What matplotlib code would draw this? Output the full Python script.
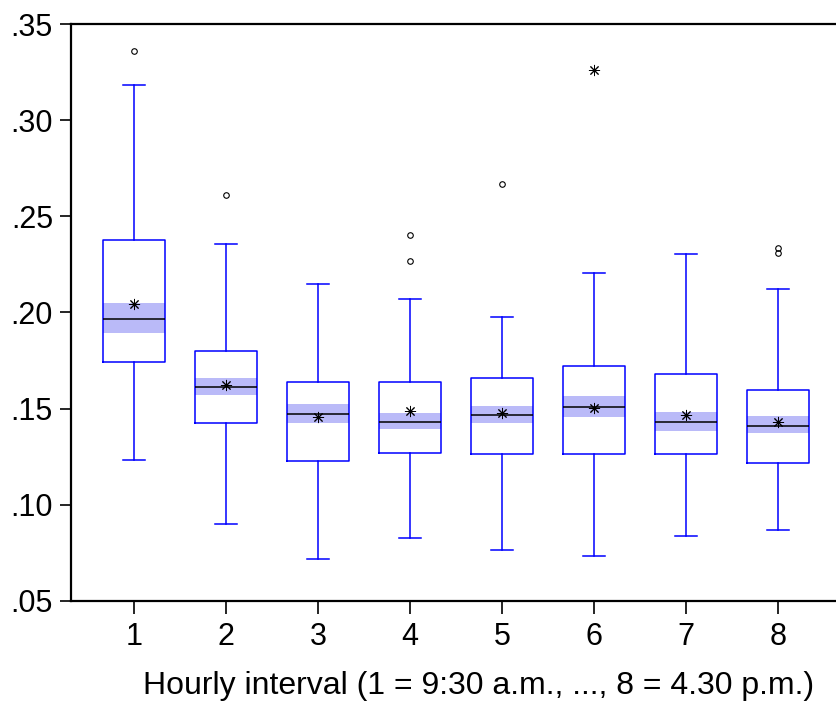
import matplotlib.pyplot as plt

# (hourly intervals 1..8)
intervals = [1, 2, 3, 4, 5, 6, 7, 8]
q1 = [0.1745, 0.1427, 0.1226, 0.1269, 0.1264, 0.1264, 0.1262, 0.1215]
median = [0.1965, 0.1615, 0.1474, 0.1431, 0.1465, 0.1509, 0.1429, 0.1411]
q3 = [0.2379, 0.1802, 0.1641, 0.1641, 0.1661, 0.1722, 0.1679, 0.1595]
whisker_lo = [0.1233, 0.0898, 0.0719, 0.0825, 0.0766, 0.0734, 0.0840, 0.0871]
whisker_hi = [0.3184, 0.2356, 0.2149, 0.2069, 0.1976, 0.2205, 0.2306, 0.2121]
mean = [0.2045, 0.1621, 0.1455, 0.1488, 0.1476, 0.1505, 0.1467, 0.1431]
ci_lo = [0.1892, 0.1569, 0.1424, 0.1392, 0.1424, 0.1455, 0.1382, 0.1371]
ci_hi = [0.2047, 0.1661, 0.1526, 0.1479, 0.1516, 0.1568, 0.1484, 0.1464]
near_outliers = [[0.3361], [0.2613], [], [0.2403, 0.2269], [0.2667], [], [], [0.2333, 0.2309]]
far_outliers = [[], [], [], [], [], [0.3260], [], []]

y_ticks = [0.05, 0.10, 0.15, 0.20, 0.25, 0.30, 0.35]
y_tick_labels = [".05", ".10", ".15", ".20", ".25", ".30", ".35"]
x_label = "Hourly interval (1 = 9:30 a.m., ..., 8 = 4.30 p.m.)"

plt.rcParams["font.family"] = ["Liberation Sans", "DejaVu Sans"]

W, H = 836, 710
fig = plt.figure(figsize=(W / 100, H / 100), dpi=100)
# axes runs a little past the right edge, as in the reference
ax = fig.add_axes([71 / W, 1 - 601 / H, (841 - 71) / W, (601 - 24) / H])

box_w = 0.667
blue = "#0000ff"

# confidence band behind the median
ax.bar(intervals, [h - l for l, h in zip(ci_lo, ci_hi)], bottom=ci_lo,
       width=box_w, color="#babaf8", linewidth=0, zorder=1)

stats = []
for i in range(len(intervals)):
    stats.append(dict(med=median[i], q1=q1[i], q3=q3[i], whislo=whisker_lo[i],
                      whishi=whisker_hi[i], mean=mean[i], fliers=near_outliers[i]))

star = (8, 2, 0)
ax.bxp(stats, positions=intervals, widths=box_w, capwidths=0.23,
       showmeans=True, showfliers=True, patch_artist=False,
       boxprops=dict(color=blue, linewidth=1.1),
       whiskerprops=dict(color=blue, linewidth=1.1),
       capprops=dict(color=blue, linewidth=1.1),
       medianprops=dict(color="black", linewidth=1.1),
       meanprops=dict(marker=star, markersize=8, markeredgecolor="black",
                      markerfacecolor="black", markeredgewidth=0.7),
       flierprops=dict(marker="o", markersize=4, markerfacecolor="none",
                       markeredgecolor="black", markeredgewidth=0.8),
       zorder=2)

for x, vals in zip(intervals, far_outliers):
    if vals:
        ax.plot([x] * len(vals), vals, linestyle="none", marker=star,
                markersize=8, markeredgecolor="black", markeredgewidth=0.7, zorder=3)

ax.set_xlim(0.315, 8.685)
ax.set_ylim(0.05, 0.35)
ax.set_xticks(intervals)
ax.set_xticklabels([str(v) for v in intervals])
ax.set_yticks(y_ticks)
ax.set_yticklabels(y_tick_labels)

for side in ["left", "bottom", "top", "right"]:
    ax.spines[side].set_linewidth(1.6)
    ax.spines[side].set_color("black")

ax.tick_params(axis="y", direction="out", length=8, width=1.2, labelsize=22, pad=5)
ax.tick_params(axis="x", direction="out", length=9, width=1.2, labelsize=22, pad=6)

ax.set_xlabel(x_label, fontsize=23)
ax.xaxis.set_label_coords((479 - 71) / (841 - 71), -0.122)

fig.savefig("out.png", dpi=100)
